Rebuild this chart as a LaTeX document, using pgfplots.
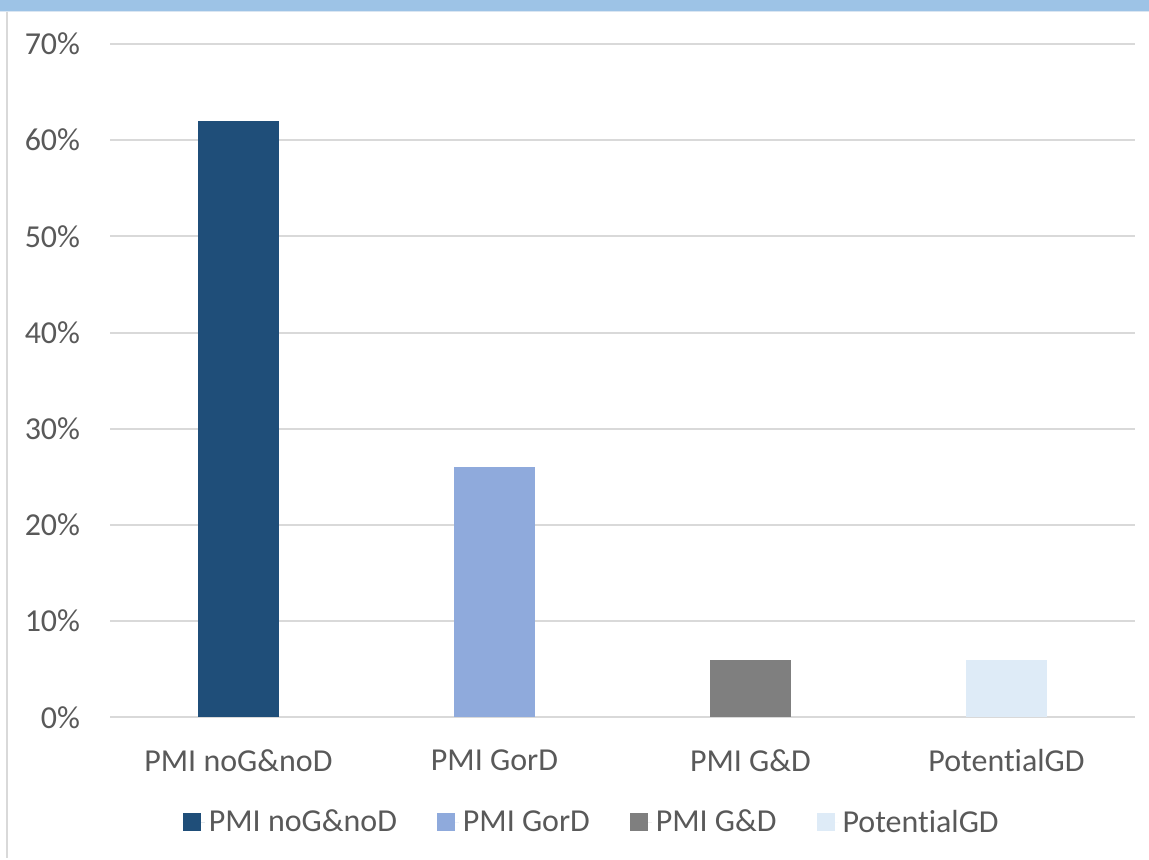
\documentclass[border=0pt]{standalone}
\usepackage{pgfplots}
\pgfplotsset{compat=1.18}
\usepackage{fontspec}
\setmainfont{Carlito}[Ligatures={NoCommon}]
\definecolor{cA}{HTML}{1F4E79}
\definecolor{cB}{HTML}{8FAADC}
\definecolor{cC}{HTML}{7F7F7F}
\definecolor{cD}{HTML}{DEEBF7}
\definecolor{band}{HTML}{9DC3E6}
\definecolor{bandline}{HTML}{DAE6F2}
\definecolor{gridc}{HTML}{D9D9D9}
\definecolor{txt}{HTML}{595959}
\begin{document}
\begin{tikzpicture}
% 1 px = 0.5pt ; page 1149 x 859 px
\path (0pt,0pt) rectangle (574.5pt,429.5pt);
\fill[band] (0pt,429.5pt) rectangle (574.5pt,424pt);
\draw[line width=0.5pt, bandline] (0pt,423.75pt) -- (574.5pt,423.75pt);
\draw[line width=1pt, gridc] (3.5pt,423.5pt) -- (3.5pt,0pt);
\begin{axis}[
  at={(55pt,70.5pt)}, anchor=south west,
  scale only axis, width=512.5pt, height=337pt,
  ybar, bar width=40.5pt,
  xmin=-0.5, xmax=3.5, ymin=0, ymax=70,
  xtick={0,1,2,3},
  xticklabels={PMI noG\&noD, PMI GorD, PMI G\&D, PotentialGD},
  ytick={0,10,20,30,40,50,60,70},
  yticklabel={\pgfmathprintnumber{\tick}\%},
  /pgf/number format/assume math mode=true,
  major tick length=0pt,
  axis line style={draw=none},
  ymajorgrids, grid style={gridc, line width=1pt},
  tick label style={font=\fontsize{16}{19}\selectfont, text=txt},
  yticklabel style={inner xsep=0pt, xshift=-15pt},
  xticklabel style={inner ysep=0pt, yshift=-16pt},
  legend style={at={(0.471,-0.156)}, anchor=center, draw=none, fill=none,
    legend columns=4, font=\fontsize{16}{19}\selectfont, text=txt,
    /tikz/every even column/.append style={column sep=18pt},
    nodes={inner xsep=2pt}},
  legend image code/.code={\fill[#1] (0pt,-4.5pt) rectangle (9pt,4.5pt); \path (0pt,0pt) -- (11pt,0pt);},
]
\addplot[fill=cA, draw=none, bar shift=0pt] coordinates {(0,62)};
\addplot[fill=cB, draw=none, bar shift=0pt] coordinates {(1,26)};
\addplot[fill=cC, draw=none, bar shift=0pt] coordinates {(2,6)};
\addplot[fill=cD, draw=none, bar shift=0pt] coordinates {(3,6)};
\legend{PMI noG\&noD, PMI GorD, PMI G\&D, PotentialGD}
\end{axis}
\end{tikzpicture}
\end{document}
